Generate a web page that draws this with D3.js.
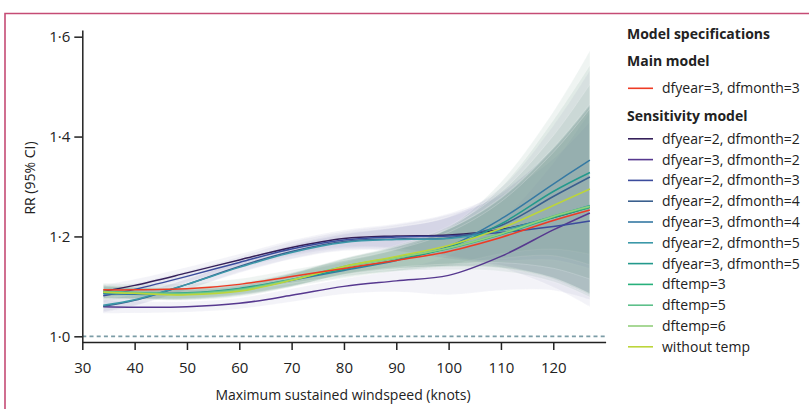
<!DOCTYPE html>
<html>
<head>
<meta charset="utf-8">
<script src="https://cdn.jsdelivr.net/npm/d3@7"></script>
<style>
  body { margin: 0; background: #fff; }
  text { font-family: "Open Sans", sans-serif; fill: #222; }
</style>
</head>
<body>
<svg id="chart" width="809" height="409"></svg>
<script>
const knots = [34, 40, 50, 60, 70, 80, 90, 100, 110, 120, 127];

// log half width of the 95% CI
const ciWidthA = [0.012, 0.011, 0.010, 0.010, 0.012, 0.014, 0.020, 0.035, 0.060, 0.105, 0.150]; // dfyear=2 family
const ciWidthB = [0.012, 0.011, 0.010, 0.010, 0.012, 0.014, 0.019, 0.032, 0.058, 0.105, 0.150]; // the rest

// RR curves
const mainModel = [1.093, 1.093, 1.095, 1.104, 1.120, 1.136, 1.152, 1.170, 1.198, 1.232, 1.253];
const y2m2 = [1.090, 1.102, 1.127, 1.153, 1.178, 1.196, 1.201, 1.203, 1.214, 1.238, 1.259];
const y3m2 = [1.059, 1.058, 1.059, 1.066, 1.082, 1.100, 1.111, 1.122, 1.160, 1.213, 1.247];
const y2m3 = [1.081, 1.094, 1.120, 1.148, 1.175, 1.193, 1.199, 1.201, 1.208, 1.220, 1.231];
const y2m4 = [1.060, 1.072, 1.104, 1.140, 1.170, 1.190, 1.195, 1.197, 1.222, 1.280, 1.319];
const y3m4 = [1.085, 1.084, 1.085, 1.094, 1.112, 1.132, 1.152, 1.180, 1.235, 1.305, 1.353];
const y2m5 = [1.062, 1.073, 1.104, 1.138, 1.168, 1.188, 1.194, 1.196, 1.212, 1.240, 1.262];
const y3m5 = [1.087, 1.086, 1.087, 1.096, 1.114, 1.134, 1.153, 1.178, 1.225, 1.290, 1.328];
const temp3 = [1.089, 1.087, 1.085, 1.093, 1.113, 1.139, 1.157, 1.176, 1.204, 1.238, 1.258];
const temp5 = [1.090, 1.088, 1.086, 1.094, 1.114, 1.140, 1.158, 1.177, 1.206, 1.241, 1.261];
const temp6 = [1.088, 1.086, 1.084, 1.092, 1.113, 1.139, 1.157, 1.177, 1.205, 1.240, 1.260];
const noTemp = [1.088, 1.086, 1.083, 1.090, 1.112, 1.140, 1.160, 1.182, 1.216, 1.262, 1.295];

const xTicks = [30, 40, 50, 60, 70, 80, 90, 100, 110, 120];
const yTicks = [1.0, 1.2, 1.4, 1.6];

const mainLabel = "dfyear=3, dfmonth=3";
const sensLabels = ["dfyear=2, dfmonth=2", "dfyear=3, dfmonth=2", "dfyear=2, dfmonth=3", "dfyear=2, dfmonth=4",
  "dfyear=3, dfmonth=4", "dfyear=2, dfmonth=5", "dfyear=3, dfmonth=5", "dftemp=3", "dftemp=5", "dftemp=6", "without temp"];
const sensValues = [y2m2, y3m2, y2m3, y2m4, y3m4, y2m5, y3m5, temp3, temp5, temp6, noTemp];
const sensColors = ["#35205a", "#56388f", "#3b4b9c", "#3a5f8e", "#3579a3", "#3b98a8", "#23998c",
  "#27b07b", "#5dc08a", "#93cf7c", "#bcd53a"];
const sensFamily = ["A", "A", "A", "A", "B", "A", "B", "B", "B", "B", "B"];
const mainColor = "#ee3b24";

const svg = d3.select("#chart");

// pink frame of the figure panel
svg.append("path")
  .attr("d", "M5,409 V13.5 H809")
  .attr("fill", "none")
  .attr("stroke", "#c54b75")
  .attr("stroke-width", 1.6);

const x = d3.scaleLinear().domain([30, 130]).range([82.3, 605.6]);
const y = d3.scaleLinear().domain([0.9886, 1.6134]).range([342, 30]);

// all models, main model last so it sits on top
let models = sensLabels.map((name, i) => ({
  name: name, values: sensValues[i], color: sensColors[i],
  width: sensFamily[i] === "A" ? ciWidthA : ciWidthB, family: sensFamily[i]
}));
models.push({name: mainLabel, values: mainModel, color: mainColor, width: ciWidthB, family: "B"});

const curve = d3.curveCatmullRom.alpha(0.5);

const area = d3.area()
  .x(d => x(d.k))
  .y0(d => y(d.lo))
  .y1(d => y(d.hi))
  .curve(curve);

const line = d3.line()
  .x(d => x(d.k))
  .y(d => y(d.v))
  .curve(curve);

function bandPoints(m) {
  return knots.map((k, i) => ({
    k: k,
    lo: m.values[i] / Math.exp(m.width[i]),
    hi: m.values[i] * Math.exp(m.width[i])
  }));
}

// CI bands
const bands = svg.append("g").attr("class", "bands");
bands.selectAll("path")
  .data(models)
  .enter().append("path")
    .attr("d", d => area(bandPoints(d)))
    .attr("fill", d => (d.family === "A" || d.name === "dfyear=3, dfmonth=2") ? "#8f92c0" : "#6f9886")
    .attr("fill-opacity", 0.11)
    .attr("stroke", "#fff")
    .attr("stroke-opacity", 0.35)
    .attr("stroke-width", 0.6);

// reference line at RR = 1
svg.append("line")
  .attr("x1", x(30)).attr("x2", x(130))
  .attr("y1", y(1)).attr("y2", y(1))
  .attr("stroke", "#7b9ca6")
  .attr("stroke-width", 1.8)
  .attr("stroke-dasharray", "4,3.2");

// model curves
svg.append("g").attr("class", "curves")
  .selectAll("path")
  .data(models)
  .enter().append("path")
    .attr("d", d => line(knots.map((k, i) => ({k: k, v: d.values[i]}))))
    .attr("fill", "none")
    .attr("stroke", d => d.color)
    .attr("stroke-width", 1.5);

// axes
const yAxis = svg.append("g")
  .attr("transform", "translate(" + x(30) + ",0)")
  .call(d3.axisLeft(y).tickValues(yTicks).tickSize(8).tickSizeOuter(0).tickPadding(4)
    .tickFormat(d => d3.format(".1f")(d).replace(".", "\u00b7")));

const xAxis = svg.append("g")
  .attr("transform", "translate(0,342)")
  .call(d3.axisBottom(x).tickValues(xTicks).tickSize(8).tickSizeOuter(0).tickPadding(12));

[yAxis, xAxis].forEach(g => {
  g.select(".domain").attr("stroke", "#222").attr("stroke-width", 1.5);
  g.selectAll(".tick line").attr("stroke", "#222").attr("stroke-width", 1.5);
  g.selectAll(".tick text").attr("fill", "#222").style("font-size", "15px")
    .style("font-family", "'Open Sans', sans-serif");
});

svg.append("text")
  .attr("transform", "translate(35,178) rotate(-90)")
  .attr("text-anchor", "middle")
  .style("font-size", "14px")
  .text("RR (95% CI)");

svg.append("text")
  .attr("x", 343).attr("y", 400)
  .attr("text-anchor", "middle")
  .style("font-size", "14px")
  .text("Maximum sustained windspeed (knots)");

// legend
const legend = svg.append("g").attr("transform", "translate(627,0)");
legend.append("text").attr("x", 0).attr("y", 39)
  .style("font-size", "14px").style("font-weight", "bold").text("Model specifications");
legend.append("text").attr("x", 0).attr("y", 66)
  .style("font-size", "14px").style("font-weight", "bold").text("Main model");
legend.append("text").attr("x", 0).attr("y", 121)
  .style("font-size", "14px").style("font-weight", "bold").text("Sensitivity model");

const legendRows = [{label: mainLabel, color: mainColor, y: 88.3}]
  .concat(sensLabels.map((l, i) => ({label: l, color: sensColors[i], y: 138.8 + i * 20.8})));

const rows = legend.selectAll("g.row")
  .data(legendRows)
  .enter().append("g")
    .attr("class", "row")
    .attr("transform", d => "translate(0," + d.y + ")");
rows.append("line")
  .attr("x1", 1).attr("x2", 26)
  .attr("stroke", d => d.color)
  .attr("stroke-width", 1.6);
rows.append("text")
  .attr("x", 35).attr("dy", "0.35em")
  .style("font-size", "14px")
  .text(d => d.label);
</script>
</body>
</html>
